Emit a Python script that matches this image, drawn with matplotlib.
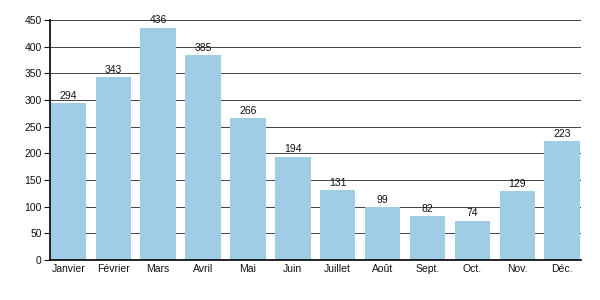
import matplotlib.pyplot as plt

mois = ['Janvier', 'Février', 'Mars', 'Avril', 'Mai', 'Juin', 'Juillet',
        'Août', 'Sept.', 'Oct.', 'Nov.', 'Déc.']
valeurs = [294, 343, 436, 385, 266, 194, 131, 99, 82, 74, 129, 223]
yticks = [0, 50, 100, 150, 200, 250, 300, 350, 400, 450]

plt.rcParams['font.family'] = ['Liberation Sans', 'DejaVu Sans']

fig = plt.figure(figsize=(6, 3), dpi=100)
ax = fig.add_axes([0.0833, 0.133, 0.885, 0.8])

bars = ax.bar(range(len(mois)), valeurs, width=0.79, color='#9ecde5', zorder=2)
for b, v in zip(bars, valeurs):
    ax.text(b.get_x() + b.get_width() / 2, v + 4, str(v), ha='center',
            va='bottom', fontsize=7.5, color='#111111', zorder=3)

ax.set_xlim(-0.41, len(mois) - 0.58)
ax.set_ylim(0, 450)
ax.set_yticks(yticks)
ax.set_xticks(range(len(mois)))
ax.set_xticklabels(mois)
ax.tick_params(axis='both', labelsize=7.5, colors='#111111')
ax.tick_params(axis='x', length=0, pad=3)
ax.tick_params(axis='y', length=4, width=0.8, pad=2)
ax.yaxis.grid(True, color='#444444', linewidth=0.7, zorder=1)
for s in ['top', 'right']:
    ax.spines[s].set_visible(False)
ax.spines['left'].set_linewidth(1.2)
ax.spines['bottom'].set_linewidth(1.2)

fig.savefig('out.png', dpi=100)
